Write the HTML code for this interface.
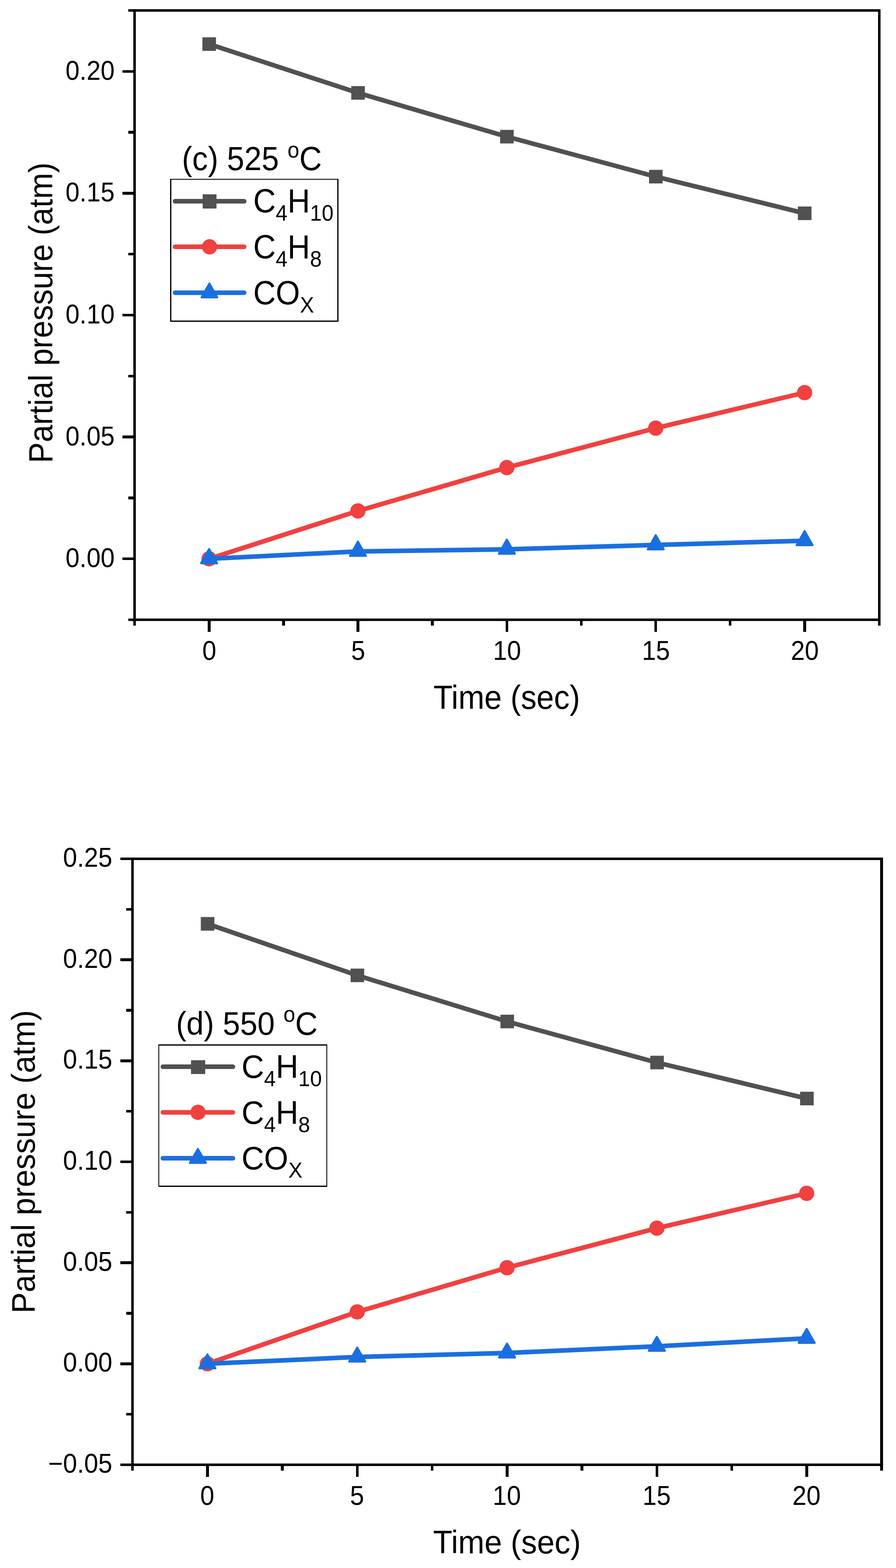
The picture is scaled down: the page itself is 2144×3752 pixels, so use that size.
<!DOCTYPE html>
<html lang="en">
<head>
<meta charset="utf-8">
<title>Partial pressure vs time</title>
<style>
html,body{margin:0;padding:0;background:#fff;}
body{width:2144px;height:3752px;overflow:hidden;}
svg{display:block;}
svg text{font-family:"Liberation Sans", sans-serif;fill:#000;}
</style>
</head>
<body>
<svg role="img" aria-label="Partial pressure versus time at 525 and 550 degrees C" width="2144" height="3752" viewBox="0 0 2144 3752">
<rect x="0" y="0" width="2144" height="3752" fill="#fff"/>
<g id="chart-c">
<g shape-rendering="crispEdges" fill="#000">
<rect x="319" y="22" width="1788" height="6" fill="#000"/>
<rect x="319" y="1480" width="1788" height="6" fill="#000"/>
<rect x="319" y="22" width="6" height="1464" fill="#000"/>
<rect x="2101" y="22" width="6" height="1464" fill="#000"/>
<rect x="307" y="22" width="15" height="6" fill="#000"/>
<rect x="293" y="168" width="29" height="6" fill="#000"/>
<rect x="307" y="313" width="15" height="7" fill="#000"/>
<rect x="293" y="459" width="29" height="7" fill="#000"/>
<rect x="307" y="605" width="15" height="6" fill="#000"/>
<rect x="293" y="751" width="29" height="6" fill="#000"/>
<rect x="307" y="897" width="15" height="6" fill="#000"/>
<rect x="293" y="1042" width="29" height="7" fill="#000"/>
<rect x="307" y="1188" width="15" height="7" fill="#000"/>
<rect x="293" y="1334" width="29" height="6" fill="#000"/>
<rect x="307" y="1480" width="15" height="6" fill="#000"/>
<rect x="319" y="1483" width="6" height="14" fill="#000"/>
<rect x="497" y="1483" width="7" height="29" fill="#000"/>
<rect x="675" y="1483" width="7" height="14" fill="#000"/>
<rect x="853" y="1483" width="7" height="29" fill="#000"/>
<rect x="1031" y="1483" width="7" height="14" fill="#000"/>
<rect x="1210" y="1483" width="6" height="29" fill="#000"/>
<rect x="1388" y="1483" width="6" height="14" fill="#000"/>
<rect x="1566" y="1483" width="6" height="29" fill="#000"/>
<rect x="1744" y="1483" width="6" height="14" fill="#000"/>
<rect x="1922" y="1483" width="7" height="29" fill="#000"/>
<rect x="2101" y="1483" width="6" height="14" fill="#000"/>
</g>
<g class="ticks">
<text transform="translate(274.3 190.7) scale(1 1.065)" font-size="60.4" text-anchor="end">0.20</text>
<text transform="translate(274.3 482.3) scale(1 1.065)" font-size="60.4" text-anchor="end">0.15</text>
<text transform="translate(274.3 773.9) scale(1 1.065)" font-size="60.4" text-anchor="end">0.10</text>
<text transform="translate(274.3 1065.5) scale(1 1.065)" font-size="60.4" text-anchor="end">0.05</text>
<text transform="translate(274.3 1357.1) scale(1 1.065)" font-size="60.4" text-anchor="end">0.00</text>
<text transform="translate(500.8 1579) scale(1 1.065)" font-size="60.4" text-anchor="middle">0</text>
<text transform="translate(857.05 1579) scale(1 1.065)" font-size="60.4" text-anchor="middle">5</text>
<text transform="translate(1213.3 1579) scale(1 1.065)" font-size="60.4" text-anchor="middle">10</text>
<text transform="translate(1569.55 1579) scale(1 1.065)" font-size="60.4" text-anchor="middle">15</text>
<text transform="translate(1925.8 1579) scale(1 1.065)" font-size="60.4" text-anchor="middle">20</text>
</g>
<text transform="translate(1212.5 1696) scale(1 1.052)" font-size="74.85" text-anchor="middle">Time (sec)</text>
<text transform="translate(124.9 748.5) rotate(-90) scale(1 1.052)" font-size="74.85" text-anchor="middle">Partial pressure (atm)</text>
<g class="series-gray">
<polyline points="500.3,105.5 856.55,222.3 1212.8,327 1569.05,422.7 1925.3,510.4" fill="none" stroke="#515151" stroke-width="11" stroke-linejoin="round" stroke-linecap="round"/>
<rect x="484.25" y="89.25" width="32.5" height="32.5" fill="#515151"/>
<rect x="840.5" y="206.05" width="32.5" height="32.5" fill="#515151"/>
<rect x="1196.75" y="310.75" width="32.5" height="32.5" fill="#515151"/>
<rect x="1553" y="406.45" width="32.5" height="32.5" fill="#515151"/>
<rect x="1909.25" y="494.15" width="32.5" height="32.5" fill="#515151"/>
</g>
<g class="series-red">
<polyline points="500.3,1337.2 856.55,1222.6 1212.8,1118.9 1569.05,1024.5 1925.3,939.5" fill="none" stroke="#F14040" stroke-width="11" stroke-linejoin="round" stroke-linecap="round"/>
<circle cx="500.3" cy="1337.2" r="18.3" fill="#F14040"/>
<circle cx="856.55" cy="1222.6" r="18.3" fill="#F14040"/>
<circle cx="1212.8" cy="1118.9" r="18.3" fill="#F14040"/>
<circle cx="1569.05" cy="1024.5" r="18.3" fill="#F14040"/>
<circle cx="1925.3" cy="939.5" r="18.3" fill="#F14040"/>
</g>
<g class="series-blue">
<polyline points="500.3,1337.2 856.55,1319.5 1212.8,1314.5 1569.05,1303.9 1925.3,1294" fill="none" stroke="#1A6FDF" stroke-width="11" stroke-linejoin="round" stroke-linecap="round"/>
<polygon points="500.3,1314 519.3,1347.7 481.3,1347.7" fill="#1A6FDF" stroke="#1A6FDF" stroke-width="5.0" stroke-linejoin="round"/>
<polygon points="856.55,1296.3 875.55,1330 837.55,1330" fill="#1A6FDF" stroke="#1A6FDF" stroke-width="5.0" stroke-linejoin="round"/>
<polygon points="1212.8,1291.3 1231.8,1325 1193.8,1325" fill="#1A6FDF" stroke="#1A6FDF" stroke-width="5.0" stroke-linejoin="round"/>
<polygon points="1569.05,1280.7 1588.05,1314.4 1550.05,1314.4" fill="#1A6FDF" stroke="#1A6FDF" stroke-width="5.0" stroke-linejoin="round"/>
<polygon points="1925.3,1270.8 1944.3,1304.5 1906.3,1304.5" fill="#1A6FDF" stroke="#1A6FDF" stroke-width="5.0" stroke-linejoin="round"/>
</g>
<g class="legend">
<text transform="translate(435.25 407.2) scale(1 1.065)" font-size="74.6">(c) 525 <tspan font-size="50.6" dy="-28.45">o</tspan><tspan dy="28.45">C</tspan></text>
<g shape-rendering="crispEdges">
<rect x="407" y="428" width="403" height="342" fill="#000"/>
<rect x="410" y="430" width="397" height="337" fill="#fff"/>
</g>
<line x1="418.8" y1="481.5" x2="584.3" y2="481.5" stroke="#515151" stroke-width="11" stroke-linecap="round"/>
<rect x="485" y="465" width="33" height="34" fill="#515151" shape-rendering="crispEdges"/>
<text transform="translate(605.9 507.9) scale(1 1.065)" font-size="74.6">C<tspan font-size="50.6" dy="18.78">4</tspan><tspan dy="-18.78">H</tspan><tspan font-size="50.6" dy="18.78">10</tspan></text>
<line x1="418.8" y1="590.6" x2="584.3" y2="590.6" stroke="#F14040" stroke-width="11" stroke-linecap="round"/>
<circle cx="501.5" cy="590.6" r="18.3" fill="#F14040"/>
<text transform="translate(605.9 617.5) scale(1 1.065)" font-size="74.6">C<tspan font-size="50.6" dy="18.78">4</tspan><tspan dy="-18.78">H</tspan><tspan font-size="50.6" dy="18.78">8</tspan></text>
<line x1="418.8" y1="700.4" x2="584.3" y2="700.4" stroke="#1A6FDF" stroke-width="11" stroke-linecap="round"/>
<polygon points="501.05,678.5 519.6,711.4 482.5,711.4" fill="#1A6FDF" stroke="#1A6FDF" stroke-width="5.0" stroke-linejoin="round"/>
<text transform="translate(605.9 727.6) scale(1 1.065)" font-size="74.6">CO<tspan font-size="50.6" dy="18.78">X</tspan></text>
</g>
</g>
<g id="chart-d">
<g shape-rendering="crispEdges" fill="#000">
<rect x="314" y="2052" width="1799" height="6" fill="#000"/>
<rect x="314" y="3502" width="1799" height="6" fill="#000"/>
<rect x="314" y="2052" width="6" height="1456" fill="#000"/>
<rect x="2106" y="2052" width="7" height="1456" fill="#000"/>
<rect x="288" y="2052" width="29" height="6" fill="#000"/>
<rect x="302" y="2173" width="15" height="6" fill="#000"/>
<rect x="288" y="2293" width="29" height="7" fill="#000"/>
<rect x="302" y="2414" width="15" height="7" fill="#000"/>
<rect x="288" y="2535" width="29" height="7" fill="#000"/>
<rect x="302" y="2656" width="15" height="6" fill="#000"/>
<rect x="288" y="2777" width="29" height="6" fill="#000"/>
<rect x="302" y="2898" width="15" height="6" fill="#000"/>
<rect x="288" y="3018" width="29" height="7" fill="#000"/>
<rect x="302" y="3139" width="15" height="7" fill="#000"/>
<rect x="288" y="3260" width="29" height="7" fill="#000"/>
<rect x="302" y="3381" width="15" height="6" fill="#000"/>
<rect x="288" y="3502" width="29" height="6" fill="#000"/>
<rect x="314" y="3505" width="6" height="14" fill="#000"/>
<rect x="493" y="3505" width="7" height="29" fill="#000"/>
<rect x="672" y="3505" width="7" height="14" fill="#000"/>
<rect x="852" y="3505" width="6" height="29" fill="#000"/>
<rect x="1031" y="3505" width="6" height="14" fill="#000"/>
<rect x="1210" y="3505" width="7" height="29" fill="#000"/>
<rect x="1389" y="3505" width="7" height="14" fill="#000"/>
<rect x="1569" y="3505" width="6" height="29" fill="#000"/>
<rect x="1748" y="3505" width="6" height="14" fill="#000"/>
<rect x="1927" y="3505" width="7" height="29" fill="#000"/>
<rect x="2106" y="3505" width="7" height="14" fill="#000"/>
</g>
<g class="ticks">
<text transform="translate(268.8 2074) scale(1 1.06)" font-size="60.7" text-anchor="end">0.25</text>
<text transform="translate(268.8 2315.67) scale(1 1.06)" font-size="60.7" text-anchor="end">0.20</text>
<text transform="translate(268.8 2557.33) scale(1 1.06)" font-size="60.7" text-anchor="end">0.15</text>
<text transform="translate(268.8 2799) scale(1 1.06)" font-size="60.7" text-anchor="end">0.10</text>
<text transform="translate(268.8 3040.67) scale(1 1.06)" font-size="60.7" text-anchor="end">0.05</text>
<text transform="translate(268.8 3282.33) scale(1 1.06)" font-size="60.7" text-anchor="end">0.00</text>
<text transform="translate(268.8 3524) scale(1 1.06)" font-size="60.7" text-anchor="end">−0.05</text>
<text transform="translate(495.85 3601) scale(1 1.06)" font-size="60.7" text-anchor="middle">0</text>
<text transform="translate(854.35 3601) scale(1 1.06)" font-size="60.7" text-anchor="middle">5</text>
<text transform="translate(1212.85 3601) scale(1 1.06)" font-size="60.7" text-anchor="middle">10</text>
<text transform="translate(1571.35 3601) scale(1 1.06)" font-size="60.7" text-anchor="middle">15</text>
<text transform="translate(1929.85 3601) scale(1 1.06)" font-size="60.7" text-anchor="middle">20</text>
</g>
<text transform="translate(1213 3717.2) scale(1 1.03)" font-size="75.5" text-anchor="middle">Time (sec)</text>
<text transform="translate(83 2780) rotate(-90) scale(1 1.03)" font-size="75.5" text-anchor="middle">Partial pressure (atm)</text>
<g class="series-gray">
<polyline points="496.25,2210.6 854.75,2333.9 1213.25,2444.3 1571.75,2542.5 1930.25,2628.6" fill="none" stroke="#515151" stroke-width="11" stroke-linejoin="round" stroke-linecap="round"/>
<rect x="480.5" y="2194.35" width="32.5" height="32.5" fill="#515151"/>
<rect x="839" y="2317.65" width="32.5" height="32.5" fill="#515151"/>
<rect x="1197.5" y="2428.05" width="32.5" height="32.5" fill="#515151"/>
<rect x="1556" y="2526.25" width="32.5" height="32.5" fill="#515151"/>
<rect x="1914.5" y="2612.35" width="32.5" height="32.5" fill="#515151"/>
</g>
<g class="series-red">
<polyline points="496.25,3263.3 854.75,3139.2 1213.25,3033.5 1571.75,2938.9 1930.25,2855.5" fill="none" stroke="#F14040" stroke-width="11" stroke-linejoin="round" stroke-linecap="round"/>
<circle cx="496.25" cy="3263.3" r="18.3" fill="#F14040"/>
<circle cx="854.75" cy="3139.2" r="18.3" fill="#F14040"/>
<circle cx="1213.25" cy="3033.5" r="18.3" fill="#F14040"/>
<circle cx="1571.75" cy="2938.9" r="18.3" fill="#F14040"/>
<circle cx="1930.25" cy="2855.5" r="18.3" fill="#F14040"/>
</g>
<g class="series-blue">
<polyline points="496.25,3263.3 854.75,3247.1 1213.25,3237.5 1571.75,3221.5 1930.25,3202.4" fill="none" stroke="#1A6FDF" stroke-width="11" stroke-linejoin="round" stroke-linecap="round"/>
<polygon points="496.25,3240.9 515.35,3274.1 477.15,3274.1" fill="#1A6FDF" stroke="#1A6FDF" stroke-width="5.0" stroke-linejoin="round"/>
<polygon points="854.75,3224.7 873.85,3257.9 835.65,3257.9" fill="#1A6FDF" stroke="#1A6FDF" stroke-width="5.0" stroke-linejoin="round"/>
<polygon points="1213.25,3215.1 1232.35,3248.3 1194.15,3248.3" fill="#1A6FDF" stroke="#1A6FDF" stroke-width="5.0" stroke-linejoin="round"/>
<polygon points="1571.75,3199.1 1590.85,3232.3 1552.65,3232.3" fill="#1A6FDF" stroke="#1A6FDF" stroke-width="5.0" stroke-linejoin="round"/>
<polygon points="1930.25,3180 1949.35,3213.2 1911.15,3213.2" fill="#1A6FDF" stroke="#1A6FDF" stroke-width="5.0" stroke-linejoin="round"/>
</g>
<g class="legend">
<text transform="translate(421.15 2476.3) scale(1 1.04)" font-size="74.6">(d) 550 <tspan font-size="50.6" dy="-30">o</tspan><tspan dy="30">C</tspan></text>
<g shape-rendering="crispEdges">
<rect x="379" y="2499" width="404" height="341" fill="#000"/>
<rect x="381" y="2502" width="400" height="335" fill="#fff"/>
</g>
<line x1="389.7" y1="2552.5" x2="557.3" y2="2552.5" stroke="#515151" stroke-width="11" stroke-linecap="round"/>
<rect x="457" y="2537" width="34" height="33" fill="#515151" shape-rendering="crispEdges"/>
<text transform="translate(578 2579.2) scale(1 1.04)" font-size="74.6">C<tspan font-size="50.6" dy="19.23">4</tspan><tspan dy="-19.23">H</tspan><tspan font-size="50.6" dy="19.23">10</tspan></text>
<line x1="389.7" y1="2661.7" x2="557.3" y2="2661.7" stroke="#F14040" stroke-width="11" stroke-linecap="round"/>
<circle cx="473.9" cy="2661.7" r="18.3" fill="#F14040"/>
<text transform="translate(578 2688.5) scale(1 1.04)" font-size="74.6">C<tspan font-size="50.6" dy="19.23">4</tspan><tspan dy="-19.23">H</tspan><tspan font-size="50.6" dy="19.23">8</tspan></text>
<line x1="389.7" y1="2771.5" x2="557.3" y2="2771.5" stroke="#1A6FDF" stroke-width="11" stroke-linecap="round"/>
<polygon points="473.5,2749.4 492.6,2782.55 454.4,2782.55" fill="#1A6FDF" stroke="#1A6FDF" stroke-width="5.0" stroke-linejoin="round"/>
<text transform="translate(578 2798) scale(1 1.04)" font-size="74.6">CO<tspan font-size="50.6" dy="19.23">X</tspan></text>
</g>
</g>
</svg>
</body>
</html>
